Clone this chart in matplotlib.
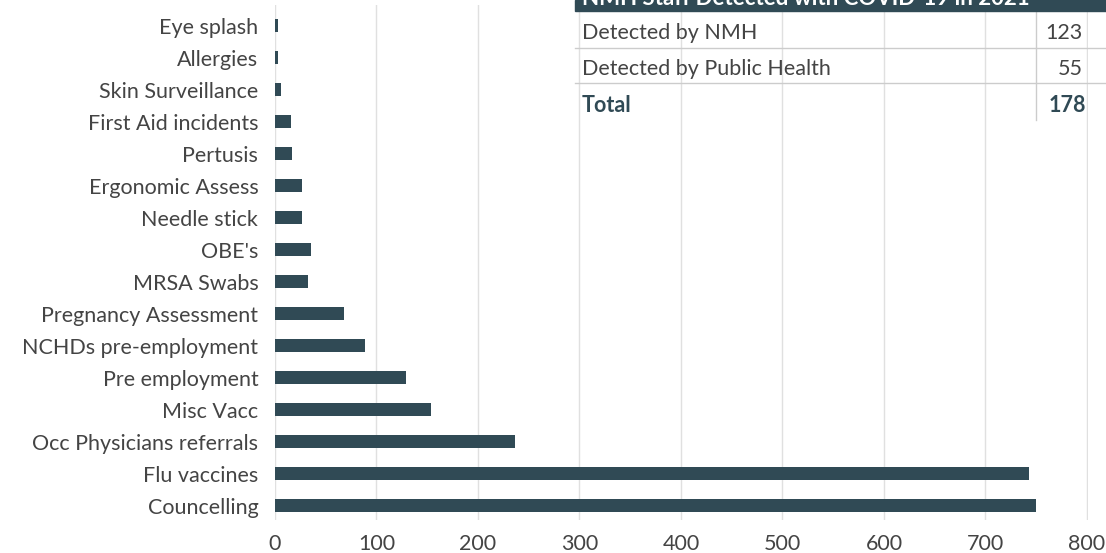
import matplotlib.pyplot as plt
from matplotlib.patches import Rectangle
from matplotlib.lines import Line2D

plt.rcParams['font.family'] = ['Lato', 'DejaVu Sans']

# services, listed bottom to top
services = ['Councelling', 'Flu vaccines', 'Occ Physicians referrals', 'Misc Vacc',
            'Pre employment', 'NCHDs pre-employment', 'Pregnancy Assessment',
            'MRSA Swabs', "OBE's", 'Needle stick', 'Ergonomic Assess', 'Pertusis',
            'First Aid incidents', 'Skin Surveillance', 'Allergies', 'Eye splash']
counts = [750, 743, 236, 154, 129, 89, 68, 33, 35, 27, 27, 17, 16, 6, 3, 3]

# covid table
table_title = 'NMH Staff Detected with COVID-19 in 2021'
table_rows = ['Detected by NMH', 'Detected by Public Health']
table_vals = [123, 55]
table_total = 178

BAR = '#304a55'
TXT = '#444444'
W, H = 1106, 553
FS = 15.5

fig = plt.figure(figsize=(11.06, 5.53), dpi=100)
ax = fig.add_axes([275 / W, 1 - 520 / H, (1088 - 275) / W, (520 - 5) / H])

ax.barh(range(len(services)), counts, height=0.4, color=BAR, zorder=3)
ax.set_yticks(range(len(services)))
ax.set_yticklabels(services)
ax.set_ylim(-0.45, 15.65)
ax.set_xlim(0, 801)
ax.set_xticks(range(0, 801, 100))
ax.tick_params(axis='y', length=0, pad=12, labelsize=FS, labelcolor=TXT)
ax.tick_params(axis='x', length=0, pad=10, labelsize=FS, labelcolor=TXT)
ax.grid(axis='x', color='#e0e0e0', linewidth=1, zorder=0)
for s in ax.spines.values():
    s.set_visible(False)

# table overlay in figure pixels
def fx(px):
    return px / W

def fy(py):
    return 1 - py / H

fig.patches.append(Rectangle((fx(575), fy(11)), fx(W - 575), 11 / H,
                             transform=fig.transFigure, color=BAR, zorder=5))
fig.text(fx(582), fy(5), table_title, color='white', fontsize=16,
         fontweight='bold', va='baseline', ha='left', zorder=6)

for py in [48, 83]:
    fig.add_artist(Line2D([fx(575), 1], [fy(py), fy(py)], color='#cccccc',
                          linewidth=1, transform=fig.transFigure))
fig.add_artist(Line2D([fx(1036), fx(1036)], [fy(11), fy(120)], color='#cccccc',
                      linewidth=1, transform=fig.transFigure))

for i, (name, v) in enumerate(zip(table_rows, table_vals)):
    y = fy(33 + 35.5 * i)
    fig.text(fx(582), y, name, color=TXT, fontsize=FS, va='center', ha='left')
    fig.text(fx(1083), y, str(v), color=TXT, fontsize=FS, va='center', ha='right')
fig.text(fx(582), fy(105), 'Total', color=BAR, fontsize=FS, fontweight='bold',
         va='center', ha='left')
fig.text(fx(1086), fy(105), str(table_total), color=BAR, fontsize=FS,
         fontweight='bold', va='center', ha='right')

fig.savefig('out.png', dpi=100)
